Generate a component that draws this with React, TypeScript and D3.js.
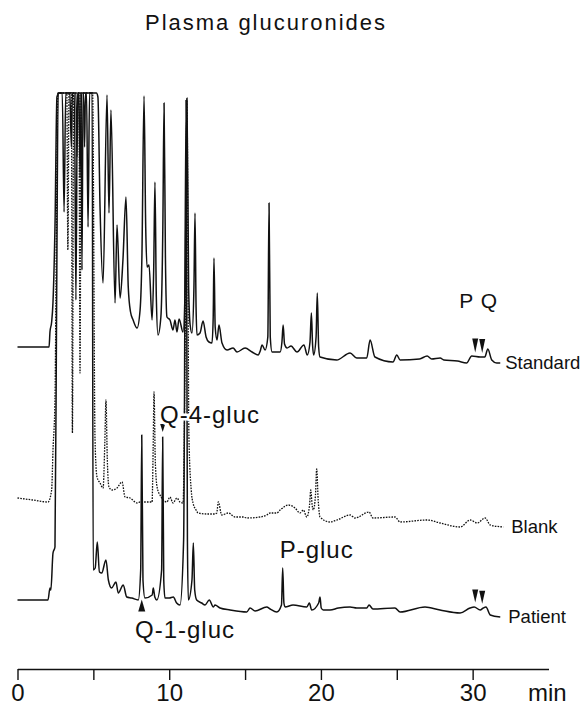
import React, { useEffect, useRef } from "react";
import * as d3 from "d3";

// chromatogram records: [retention time (min), detector response]
const standardTrace: [number, number][] = [
  [0, 0], [2.08, 0], [2.14, 15], [2.25, 25], [2.34, 45], [2.47, 120], [2.6, 250], [2.74, 300],
  [2.95, 300], [3.07, 135], [3.18, 300], [3.45, 300], [3.55, 200], [3.62, 300], [3.85, 300],
  [3.92, 190], [3.98, 300], [4.05, 300], [4.12, 170], [4.22, 300], [4.35, 300], [4.42, 200],
  [4.48, 300], [4.55, 300], [4.65, 120], [4.75, 300], [5.2, 300], [5.3, 250],
  [5.44, 140], [5.64, 64], [5.9, 252], [6.03, 134], [6.16, 237], [6.43, 44], [6.56, 122],
  [6.76, 49], [6.95, 87], [7.15, 150], [7.3, 60], [7.45, 35], [7.62, 27], [7.88, 19], [8.08, 37],
  [8.2, 90], [8.34, 251], [8.45, 120], [8.54, 80], [8.67, 82], [8.87, 27], [8.98, 80], [9.06, 165],
  [9.15, 50], [9.26, 12], [9.45, 30], [9.58, 120], [9.66, 244], [9.75, 90], [9.85, 30], [10.05, 27],
  [10.25, 17], [10.38, 27], [10.51, 15], [10.65, 28], [10.91, 15], [11.05, 60], [11.17, 249],
  [11.28, 60], [11.38, 22], [11.5, 14], [11.63, 60], [11.7, 134], [11.77, 40], [11.83, 12],
  [12.03, 14], [12.23, 26], [12.43, 10], [12.62, 5], [12.82, 4], [12.9, 30], [12.95, 89],
  [13.03, 20], [13.15, 7], [13.28, 22], [13.48, 4], [13.81, -3], [14.21, -1], [14.47, -5],
  [15.0, -1], [15.46, -5], [15.86, -8], [16.0, -4], [16.12, 2], [16.32, -3], [16.5, 10],
  [16.58, 144], [16.66, 10], [16.78, -5], [17.31, -5], [17.43, 5], [17.51, 22], [17.6, 3],
  [17.77, -1], [18.03, 1], [18.42, -5], [18.88, 2], [19.1, -8], [19.28, 5], [19.37, 34],
  [19.45, 2], [19.52, -8], [19.68, 10], [19.76, 54], [19.85, 0], [19.94, -10], [21.04, -13],
  [21.92, -6], [22.36, -11], [23.02, -11], [23.24, 7], [23.56, -10], [24.75, -15], [25.0, -8],
  [25.22, -13], [26.5, -12], [27.0, -9], [27.3, -12], [27.86, -11], [28.1, -13], [29.0, -14],
  [29.6, -16], [29.94, -9], [30.5, -10], [30.8, -10], [31.0, -2], [31.26, -13], [31.59, -16],
  [31.82, -16],
];

const blankTrace: [number, number][] = [
  [0, 2], [1.0, 0], [2.01, -2], [2.25, 10], [2.34, 50], [2.47, 100], [2.58, 300], [2.66, 500],
  [3.25, 500], [3.32, 250], [3.4, 500], [3.55, 500], [3.62, 67], [3.7, 500], [4.05, 500],
  [4.12, 127], [4.2, 500], [4.95, 500],
  [5.11, 60], [5.24, 23], [5.44, 17], [5.64, 12], [5.76, 60], [5.83, 100], [5.92, 40], [6.03, 13],
  [6.23, 10], [6.56, 12], [6.89, 18], [7.09, 3], [7.42, 2], [7.88, -3], [8.08, -2], [8.87, -2],
  [8.94, 50], [9.0, 108], [9.08, 40], [9.2, 13], [9.39, 5], [9.85, -2], [10.05, 3], [10.25, -3],
  [10.51, 2], [10.71, -2], [10.91, -3], [11.05, 150], [11.17, 400], [11.3, 63], [11.45, 10],
  [11.57, -3], [11.77, -10], [11.9, -13], [12.5, -14], [13.0, -14], [13.13, -13], [13.24, -2],
  [13.46, -15], [13.9, -13], [14.34, -17], [14.88, -17], [15.11, -18], [16.0, -17], [16.43, -15],
  [16.65, -13], [17.09, -13], [17.31, -10], [17.85, -5], [18.29, -8], [18.62, -13], [18.84, -10],
  [19.07, -17], [19.25, -5], [19.33, 10], [19.42, -5], [19.5, -10], [19.64, 5], [19.72, 31],
  [19.82, 0], [19.94, -17], [20.6, -22], [21.06, -20], [21.92, -15], [22.25, -18], [23.17, -12],
  [23.43, -18], [24.88, -17], [25.22, -22], [27.0, -20], [27.86, -23], [29.18, -27], [29.84, -20],
  [30.3, -23], [30.82, -18], [31.16, -25], [32.02, -27],
];

const patientTrace: [number, number][] = [
  [0, 0], [2.01, 0], [2.14, 12], [2.2, 10], [2.34, 47], [2.47, 53], [2.58, 300], [2.68, 600],
  [3.75, 600], [3.85, 300], [3.95, 600], [4.18, 600], [4.25, 330], [4.32, 600], [4.92, 600],
  [4.99, 30], [5.12, 32], [5.26, 58],
  [5.4, 28], [5.55, 27], [5.83, 40], [5.99, 20], [6.2, 12], [6.49, 18], [6.64, 7], [6.97, 15],
  [7.2, 3], [7.53, 2], [7.96, 0], [8.12, 30], [8.19, 165], [8.27, 20], [8.4, 2], [8.88, 5],
  [8.95, 12], [9.05, 3], [9.18, 0], [9.5, 30], [9.57, 163], [9.64, 20], [9.72, 2], [10.01, 2],
  [10.27, 3], [10.49, -3], [10.71, -5], [10.95, 60], [11.11, 500], [11.2, 60], [11.26, 0],
  [11.5, 20], [11.59, 57], [11.68, 10], [11.81, 0], [12.14, -3], [12.36, -5], [12.64, 0],
  [12.91, -7], [13.02, -5], [13.35, -8], [14.01, -10], [15.11, -12], [15.33, -8], [15.66, -11],
  [16.43, -7], [16.65, -9], [17.09, -12], [17.4, -5], [17.48, 32], [17.56, -3], [17.64, -7],
  [18.16, -5], [19.07, -7], [19.24, -3], [19.39, -10], [19.85, -3], [19.94, 3], [20.02, -8],
  [20.16, -10], [20.6, -10], [21.15, -8], [21.92, -7], [22.36, -8], [23.02, -8], [23.17, -5],
  [23.43, -9], [24.88, -8], [25.22, -12], [26.86, -7], [27.85, -10], [29.17, -13], [29.83, -8],
  [30.1, -7], [30.5, -10], [30.7, -8], [30.88, -7], [31.16, -15], [31.82, -17],
];

const traceNames = ["Standard", "Blank", "Patient"];
const traceData = [standardTrace, blankTrace, patientTrace];
const traceOffsets = [253, 100, 0];

const axisTicks = [0, 5, 10, 15, 20, 25, 30];
const axisLabels = [0, 10, 20, 30];

const pqTimes = [30.17, 30.63];
const q1Time = 8.19;
const q4Time = 9.57;
const pTime = 17.48;

const W = 584;
const H = 709;
const FONT = "'Liberation Sans', Arial, Helvetica, sans-serif";
const CLIP = 507;

const x = d3.scaleLinear().domain([0, 35]).range([17.5, 548.5]);
const y = d3.scaleLinear().domain([0, 520]).range([600, 80]);

function valueAt(trace: [number, number][], t: number) {
  const i = d3.bisector((d: [number, number]) => d[0]).left(trace, t);
  const a = trace[Math.max(0, i - 1)];
  const b = trace[Math.min(trace.length - 1, i)];
  if (b[0] === a[0]) return a[1];
  return a[1] + ((b[1] - a[1]) * (t - a[0])) / (b[0] - a[0]);
}

const halo = {
  paintOrder: "stroke",
  stroke: "#fff",
  strokeWidth: 5,
  strokeLinejoin: "round" as const,
};

export default function App() {
  const axisRef = useRef<SVGGElement>(null);

  useEffect(() => {
    const g = d3.select(axisRef.current);
    g.call(
      d3
        .axisBottom(x)
        .tickValues(axisTicks)
        .tickSize(11)
        .tickSizeOuter(0)
        .tickPadding(4)
        .tickFormat((d) => (axisLabels.includes(+d) ? String(d) : ""))
    );
    g.attr("font-size", null).attr("font-family", null);
    g.select(".domain").attr("stroke", "#111").attr("stroke-width", 1.6);
    g.selectAll(".tick line").attr("stroke", "#111").attr("stroke-width", 1.4);
    g.selectAll(".tick text")
      .attr("font-size", 24)
      .attr("font-family", FONT)
      .attr("fill", "#111");
  }, []);

  const lineFor = (offset: number) =>
    d3
      .line<[number, number]>()
      .x((d) => x(d[0]))
      .y((d) => y(Math.min(offset + d[1], CLIP)))
      .curve(d3.curveMonotoneX);

  const down = (cx: number, tip: number, w: number, h: number) =>
    `M${cx - w / 2},${tip - h}L${cx + w / 2},${tip - h}L${cx},${tip}Z`;
  const up = (cx: number, tip: number, w: number, h: number) =>
    `M${cx - w / 2},${tip + h}L${cx + w / 2},${tip + h}L${cx},${tip}Z`;

  const stdY = (t: number) => y(traceOffsets[0] + valueAt(standardTrace, t));
  const patY = (t: number) => y(traceOffsets[2] + valueAt(patientTrace, t));

  return (
    <svg
      width={W}
      height={H}
      style={{ position: "absolute", left: 0, top: 0, background: "#fff" }}
    >
      <rect width={W} height={H} fill="#fff" />
      <text x={145} y={30} fontSize={22} fontFamily={FONT} fill="#111" textLength={240} lengthAdjust="spacing">
        Plasma glucuronides
      </text>

      {traceData.map((tr, i) => (
        <path
          key={traceNames[i]}
          d={lineFor(traceOffsets[i])(tr) || ""}
          fill="none"
          stroke="#111"
          strokeWidth={i === 1 ? 1.3 : 1.5}
          strokeDasharray={i === 1 ? "1.6 1.2" : undefined}
          strokeLinejoin="round"
        />
      ))}

      {traceData.map((tr, i) => {
        const last = tr[tr.length - 1];
        return (
          <text
            key={"lbl" + i}
            x={x(last[0]) + (i === 0 ? 5 : 8)}
            y={y(traceOffsets[i] + last[1]) + 6}
            fontSize={18.5}
            fontFamily={FONT}
            fill="#111"
          >
            {traceNames[i]}
          </text>
        );
      })}

      {/* P / Q markers */}
      {pqTimes.map((t) => (
        <path key={"s" + t} d={down(x(t), stdY(t) - 4, 6, 14)} fill="#111" />
      ))}
      {pqTimes.map((t) => (
        <path key={"p" + t} d={down(x(t), patY(t) - 5, 6, 13)} fill="#111" />
      ))}
      <text x={x(d3.mean(pqTimes)!)} y={308} fontSize={21} fontFamily={FONT} fill="#111" textAnchor="middle" letterSpacing={1}>
        P Q
      </text>

      {/* annotated peaks */}
      <path d={down(x(q4Time), patY(q4Time) - 5, 5, 8)} fill="#111" />
      <text x={160} y={423} fontSize={24} fontFamily={FONT} fill="#111" letterSpacing={1} style={halo}>
        Q-4-gluc
      </text>
      <path d={up(x(q1Time), y(traceOffsets[2] + valueAt(patientTrace, q1Time - 0.2)) + 5, 7, 12)} fill="#111" />
      <text x={135} y={638} fontSize={24} fontFamily={FONT} fill="#111" letterSpacing={1} style={halo}>
        Q-1-gluc
      </text>
      <text x={x(pTime) - 3} y={558} fontSize={24} fontFamily={FONT} fill="#111" letterSpacing={1} style={halo}>
        P-gluc
      </text>

      <g ref={axisRef} transform="translate(0,669)" />
      <text x={528} y={701} fontSize={24} fontFamily={FONT} fill="#111">
        min
      </text>
    </svg>
  );
}
